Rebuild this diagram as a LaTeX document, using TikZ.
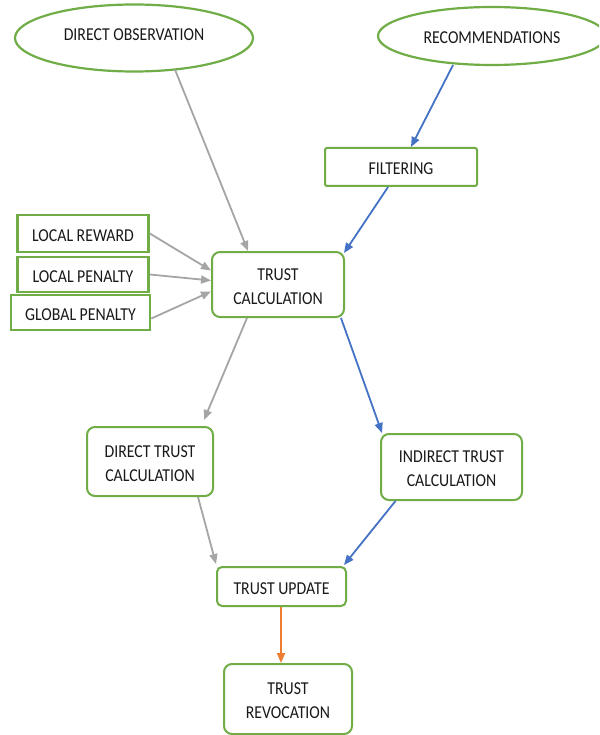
\documentclass[tikz,border=0pt]{standalone}
\usepackage{fontspec}
\setmainfont{Carlito}
\usepackage{graphicx}
\usetikzlibrary{shapes.geometric,arrows.meta}
\definecolor{grn}{RGB}{112,173,71}
\definecolor{blu}{RGB}{68,114,196}
\definecolor{gry}{RGB}{165,165,165}
\definecolor{org}{RGB}{237,125,49}
\definecolor{txt}{RGB}{25,25,25}
\newcommand{\lbl}[2][-3pt]{\raisebox{#1}[\height][\depth]{\scalebox{1}[1.15]{\begin{tabular}{@{}c@{}}#2\end{tabular}}}}
\begin{document}
\begin{tikzpicture}[x=1pt,y=-1pt,
  every node/.style={font=\fontsize{15.8}{20.9}\selectfont, text=txt, inner sep=0pt},
  oval/.style={ellipse, draw=grn, line width=2.2pt, fill=white},
  rbox/.style={rectangle, rounded corners=8pt, draw=grn, line width=2pt, fill=white},
  sbox/.style={rectangle, draw=grn, line width=2.6pt, fill=white},
  arr/.style={line width=1.8pt, -{Triangle[length=10pt,width=8pt]}},
  garr/.style={arr, draw=gry, fill=gry},
  barr/.style={arr, draw=blu, fill=blu},
  oarr/.style={arr, draw=org, fill=org}]
\useasboundingbox (0,0) rectangle (599,735);
\begin{scope}
\clip (0,0) rectangle (599,735);
\node[oval, minimum width=238pt, minimum height=67pt] (obs) at (134,38) {\lbl[2pt]{DIRECT OBSERVATION}};
\node[oval, minimum width=228pt, minimum height=58pt] (rec) at (492,36) {\lbl{RECOMMENDATIONS}};
\node[rbox, rounded corners=2pt, minimum width=152pt, minimum height=38pt] (filt) at (401,167) {\lbl{FILTERING}};
\node[rbox, minimum width=132pt, minimum height=65pt] (tc) at (278,284.5) {\lbl{TRUST\\CALCULATION}};
\node[sbox, minimum width=131pt, minimum height=37pt] (lr) at (83,233.5) {\lbl{LOCAL REWARD}};
\node[sbox, minimum width=131pt, minimum height=35pt] (lp) at (83,274.5) {\lbl{LOCAL PENALTY}};
\node[sbox, minimum width=139pt, minimum height=35pt] (gp) at (80.5,312.5) {\lbl{GLOBAL PENALTY}};
\node[rbox, minimum width=126pt, minimum height=69pt] (dtc) at (150,461.5) {\lbl{DIRECT TRUST\\CALCULATION}};
\node[rbox, minimum width=141pt, minimum height=66pt] (itc) at (451.5,467) {\lbl{INDIRECT TRUST\\CALCULATION}};
\node[rbox, rounded corners=5pt, minimum width=129pt, minimum height=39pt] (tu) at (281.5,586.5) {\lbl{TRUST UPDATE}};
\node[rbox, minimum width=128pt, minimum height=70pt] (tr) at (288,699) {\lbl{TRUST\\REVOCATION}};

\draw[garr] ([xshift=41pt,yshift=3pt]obs.south) -- ([xshift=-30pt]tc.north);
\draw[barr] ([xshift=-39pt,yshift=1pt]rec.south) -- ([xshift=10pt]filt.north);
\draw[barr] ([xshift=-13pt]filt.south) -- ([xshift=-1pt,yshift=-2pt]tc.north east);
\draw[garr] (lr.east) -- ([yshift=14pt]tc.west);
\draw[garr] (lp.east) -- ([yshift=4pt]tc.west);
\draw[garr] ([yshift=-6pt]gp.east) -- ([yshift=-7pt]tc.west);
\draw[garr] ([xshift=-31pt]tc.south) -- ([xshift=-10pt,yshift=6pt]dtc.north east);
\draw[barr] ([xshift=-4pt]tc.south east) -- ([xshift=2pt]itc.north west);
\draw[garr] ([xshift=48pt]dtc.south) -- ([yshift=2pt]tu.north west);
\draw[barr] ([xshift=-56pt]itc.south) -- ([xshift=-3pt,yshift=1pt]tu.north east);
\draw[oarr] ([xshift=-0.5pt]tu.south) -- ([xshift=-7pt]tr.north);
\end{scope}
\end{tikzpicture}
\end{document}
